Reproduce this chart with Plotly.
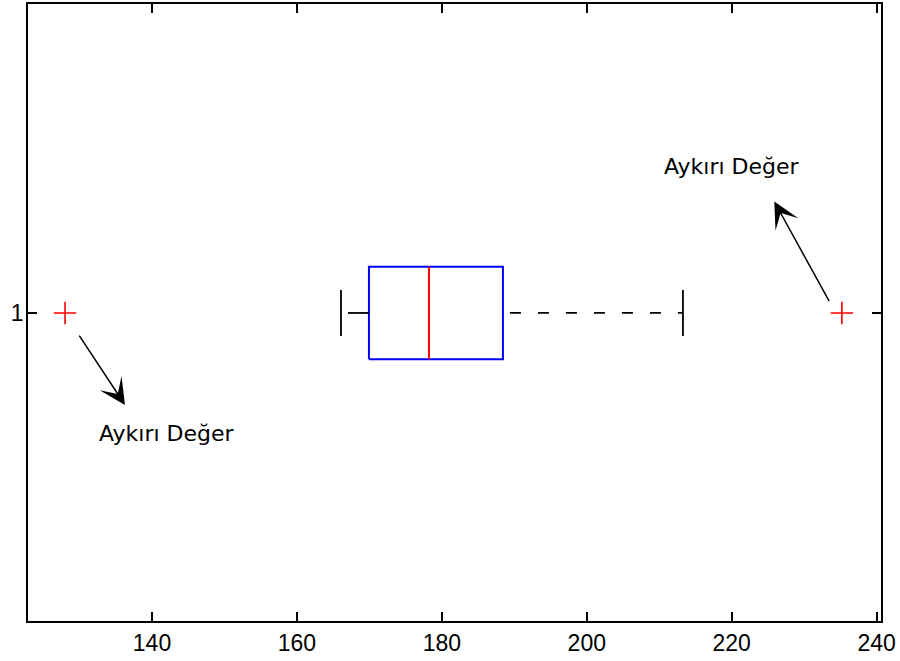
import plotly.graph_objects as go

# ---- data ----
categories = ["1"]
group_pos = [1]
q1 = [169.94]
median = [178.22]
q3 = [188.43]
lower_whisker = [166.08]
upper_whisker = [213.27]
outlier_values = [128.0, 235.2]
outlier_groups = [1, 1]
note_label = "Aykırı Değer"
# arrow tail (near outlier) and head positions, and text positions, in data units
arrow_tail_x = [129.83, 233.56]
arrow_tail_y = [0.886, 1.056]
arrow_head_x = [136.27, 225.88]
arrow_head_y = [0.503, 1.602]
note_x = [142.07, 220.0]
note_y = [0.351, 1.791]
x_ticks = [140, 160, 180, 200, 220, 240]

BOX_HALF = 0.25
CAP_HALF = 0.124

fig = go.Figure()
for i, g in enumerate(group_pos):
    # box
    fig.add_trace(go.Scatter(
        x=[q1[i], q3[i], q3[i], q1[i], q1[i]],
        y=[g - BOX_HALF, g - BOX_HALF, g + BOX_HALF, g + BOX_HALF, g - BOX_HALF],
        mode="lines", line=dict(color="#0000ff", width=2), hoverinfo="skip"))
    # median
    fig.add_trace(go.Scatter(
        x=[median[i], median[i]], y=[g - BOX_HALF, g + BOX_HALF],
        mode="lines", line=dict(color="#ff0000", width=2), hoverinfo="skip"))
    # whiskers
    fig.add_trace(go.Scatter(
        x=[q3[i], upper_whisker[i]], y=[g, g],
        mode="lines", line=dict(color="black", width=1.8, dash="0px,7px,11px,10px"),
        hoverinfo="skip"))
    fig.add_trace(go.Scatter(
        x=[q1[i], lower_whisker[i]], y=[g, g],
        mode="lines", line=dict(color="black", width=1.8, dash="21px,7px"),
        hoverinfo="skip"))
    # caps
    for w in (lower_whisker[i], upper_whisker[i]):
        fig.add_trace(go.Scatter(
            x=[w, w], y=[g - CAP_HALF, g + CAP_HALF],
            mode="lines", line=dict(color="black", width=1.8), hoverinfo="skip"))

# outliers
fig.add_trace(go.Scatter(
    x=outlier_values, y=outlier_groups, mode="markers",
    marker=dict(symbol="cross-thin", size=16, line=dict(color="#ff0000", width=1.6)),
    hoverinfo="skip"))

for i in range(len(arrow_tail_x)):
    fig.add_annotation(
        x=arrow_head_x[i], y=arrow_head_y[i], ax=arrow_tail_x[i], ay=arrow_tail_y[i],
        xref="x", yref="y", axref="x", ayref="y", text="",
        showarrow=True, arrowhead=3, arrowsize=2.9, arrowwidth=1.5,
        arrowcolor="black", standoff=0, startstandoff=0)
    fig.add_annotation(
        x=note_x[i], y=note_y[i], xref="x", yref="y", text=note_label,
        showarrow=False, font=dict(family="DejaVu Sans", size=22, color="black"),
        xanchor="center", yanchor="middle")

axis_common = dict(
    showline=True, linecolor="black", linewidth=1.5, mirror="ticks",
    ticks="inside", ticklen=9, tickwidth=1.5, tickcolor="black",
    showgrid=False, zeroline=False, automargin=False,
    tickfont=dict(family="Liberation Sans", size=23, color="black"),
)
fig.update_xaxes(range=[122.89, 240.6], tickvals=x_ticks, ticklabelstandoff=1, **axis_common)
fig.update_yaxes(range=[-0.665, 2.67], tickvals=group_pos, ticktext=categories,
                 ticklabelstandoff=-2, **axis_common)

fig.update_layout(
    width=900, height=661, showlegend=False,
    margin=dict(l=28, r=19, t=4, b=40, autoexpand=False),
    plot_bgcolor="white", paper_bgcolor="white",
)
fig.write_html("out.html", config={"displayModeBar": False},
               post_script="document.body.style.margin='0px';document.body.style.overflow='hidden';")
